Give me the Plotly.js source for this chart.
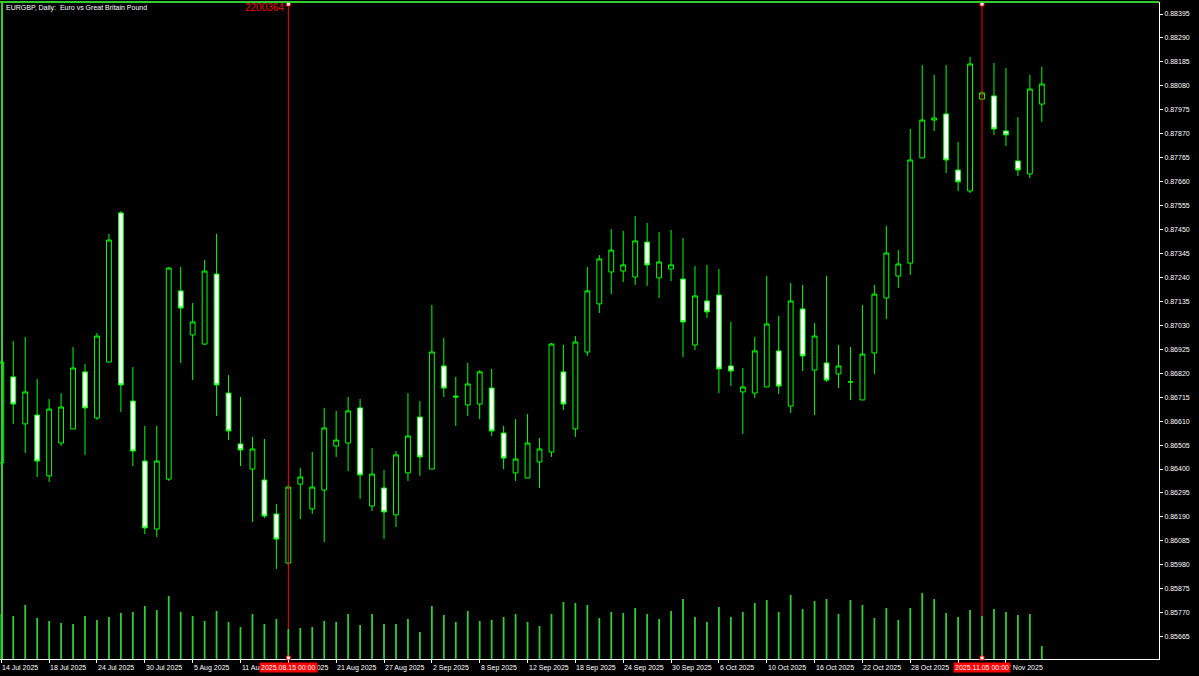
<!DOCTYPE html>
<html>
<head>
<meta charset="utf-8">
<script src="https://cdn.plot.ly/plotly-3.0.1.min.js"></script>
<style>
  html, body { margin: 0; padding: 0; background: #000; }
  #chart { width: 1199px; height: 676px; }
</style>
</head>
<body>
<div id="chart"></div>
<script>
const symbolTitle = 'EURGBP, Daily:  Euro vs Great Britain Pound';

const dates = [
  '2025.07.14','2025.07.15','2025.07.16','2025.07.17','2025.07.18','2025.07.21','2025.07.22','2025.07.23','2025.07.24','2025.07.25',
  '2025.07.28','2025.07.29','2025.07.30','2025.07.31','2025.08.01','2025.08.04','2025.08.05','2025.08.06','2025.08.07','2025.08.08',
  '2025.08.11','2025.08.12','2025.08.13','2025.08.14','2025.08.15','2025.08.18','2025.08.19','2025.08.20','2025.08.21','2025.08.22',
  '2025.08.25','2025.08.26','2025.08.27','2025.08.28','2025.08.29','2025.09.01','2025.09.02','2025.09.03','2025.09.04','2025.09.05',
  '2025.09.08','2025.09.09','2025.09.10','2025.09.11','2025.09.12','2025.09.15','2025.09.16','2025.09.17','2025.09.18','2025.09.19',
  '2025.09.22','2025.09.23','2025.09.24','2025.09.25','2025.09.26','2025.09.29','2025.09.30','2025.10.01','2025.10.02','2025.10.03',
  '2025.10.06','2025.10.07','2025.10.08','2025.10.09','2025.10.10','2025.10.13','2025.10.14','2025.10.15','2025.10.16','2025.10.17',
  '2025.10.20','2025.10.21','2025.10.22','2025.10.23','2025.10.24','2025.10.27','2025.10.28','2025.10.29','2025.10.30','2025.10.31',
  '2025.11.03','2025.11.04','2025.11.05','2025.11.06','2025.11.07','2025.11.10','2025.11.11','2025.11.12'
];

const openP = [
  0.86427,0.86804,0.86598,0.86637,0.86370,0.86514,0.86576,0.86826,0.86624,0.86869,
  0.87523,0.86698,0.86435,0.86137,0.86356,0.87181,0.86988,0.86948,0.87255,0.86733,
  0.86510,0.86400,0.86352,0.86203,0.85988,0.86334,0.86225,0.86308,0.86501,0.86514,
  0.86668,0.86238,0.86317,0.86199,0.86383,0.86628,0.86400,0.86852,0.86720,0.86681,
  0.86685,0.86755,0.86558,0.86383,0.86361,0.86431,0.86475,0.86826,0.86576,0.86913,
  0.87124,0.87264,0.87268,0.87242,0.87395,0.87238,0.87277,0.87233,0.86944,0.87137,
  0.87163,0.86852,0.86738,0.86733,0.86760,0.86918,0.86676,0.87102,0.86834,0.86865,
  0.86817,0.86782,0.86703,0.86909,0.87150,0.87246,0.87303,0.87764,0.87930,0.87957,
  0.87711,0.87619,0.88022,0.88036,0.87882,0.87751,0.87694,0.88000
];
const highP = [
  0.86878,0.86961,0.86979,0.86795,0.86707,0.86733,0.86935,0.86861,0.86997,0.87431,
  0.87531,0.86847,0.86589,0.86589,0.87286,0.87286,0.87128,0.87317,0.87431,0.86812,
  0.86716,0.86541,0.86532,0.86247,0.86334,0.86405,0.86475,0.86668,0.86655,0.86716,
  0.86707,0.86492,0.86396,0.86479,0.86733,0.86698,0.87119,0.86975,0.86804,0.86865,
  0.86834,0.86839,0.86589,0.86619,0.86641,0.86536,0.86953,0.86944,0.86983,0.87286,
  0.87338,0.87452,0.87444,0.87509,0.87479,0.87439,0.87448,0.87413,0.87290,0.87295,
  0.87277,0.87045,0.86843,0.86979,0.87246,0.87071,0.87216,0.87207,0.87040,0.87246,
  0.86944,0.86935,0.87119,0.87207,0.87466,0.87360,0.87891,0.88171,0.88128,0.88171,
  0.87834,0.88207,0.88057,0.88180,0.88158,0.87943,0.88128,0.88163
];
const lowP = [
  0.86413,0.86598,0.86470,0.86365,0.86343,0.86501,0.86576,0.86462,0.86615,0.86869,
  0.86650,0.86413,0.86115,0.86102,0.86348,0.86865,0.86790,0.86944,0.86633,0.86527,
  0.86413,0.86168,0.86185,0.85962,0.85979,0.86181,0.86203,0.86080,0.86453,0.86391,
  0.86269,0.86216,0.86093,0.86146,0.86348,0.86370,0.86400,0.86716,0.86589,0.86633,
  0.86619,0.86545,0.86400,0.86348,0.86361,0.86317,0.86453,0.86659,0.86541,0.86896,
  0.87084,0.87167,0.87220,0.87207,0.87203,0.87150,0.87224,0.86891,0.86922,0.87062,
  0.86733,0.86764,0.86554,0.86712,0.86760,0.86729,0.86646,0.86830,0.86637,0.86782,
  0.86755,0.86703,0.86703,0.86817,0.87058,0.87194,0.87251,0.87764,0.87882,0.87698,
  0.87619,0.87610,0.88018,0.87865,0.87816,0.87685,0.87676,0.87922
];
const closeP = [
  0.86869,0.86685,0.86738,0.86435,0.86663,0.86672,0.86843,0.86668,0.86983,0.87404,
  0.86769,0.86479,0.86142,0.86435,0.87281,0.87106,0.87045,0.87268,0.86769,0.86567,
  0.86484,0.86488,0.86194,0.86093,0.86321,0.86365,0.86321,0.86580,0.86527,0.86655,
  0.86374,0.86378,0.86212,0.86462,0.86545,0.86453,0.86913,0.86755,0.86716,0.86773,
  0.86826,0.86567,0.86448,0.86444,0.86514,0.86488,0.86948,0.86685,0.86957,0.87181,
  0.87321,0.87360,0.87295,0.87400,0.87295,0.87308,0.87295,0.87045,0.87159,0.87089,
  0.86839,0.86830,0.86760,0.86918,0.87036,0.86764,0.87137,0.86896,0.86983,0.86790,
  0.86852,0.86782,0.86904,0.87167,0.87347,0.87299,0.87755,0.87930,0.87939,0.87755,
  0.87659,0.88176,0.88049,0.87891,0.87865,0.87711,0.88066,0.88088
];
const tickVolume = [
  4500,4300,5400,4100,3800,3600,3500,4300,3900,4200,
  4600,4700,5300,4900,6300,4700,4300,3800,4800,3700,
  3200,4500,3500,4000,3000,3100,3200,3800,3700,4500,
  3400,4500,3500,3500,4000,2700,5300,4400,3700,4800,
  3800,3900,4200,4500,3700,3300,4500,5700,5600,5400,
  4100,4700,4600,5100,4500,4000,4800,6000,4200,3700,
  5200,4200,4700,5600,5900,4700,6400,5000,5800,6000,
  4500,5900,5400,4100,5100,3900,5100,6600,6000,4600,
  4200,4900,4300,5000,4700,4400,4500,1300
];

const priceTicks = [
  '0.88395','0.88290','0.88185','0.88080','0.87975','0.87870','0.87765','0.87660','0.87555',
  '0.87450','0.87345','0.87240','0.87135','0.87030','0.86925','0.86820','0.86715','0.86610',
  '0.86505','0.86400','0.86295','0.86190','0.86085','0.85980','0.85875','0.85770','0.85665'
];

const dateTickDates = [
  '2025.07.14','2025.07.18','2025.07.24','2025.07.30','2025.08.05','2025.08.11','2025.08.15','2025.08.21',
  '2025.08.27','2025.09.02','2025.09.08','2025.09.12','2025.09.18','2025.09.24','2025.09.30','2025.10.06',
  '2025.10.10','2025.10.16','2025.10.22','2025.10.28','2025.11.03','2025.11.07'
];
const dateTickLabels = [
  '14 Jul 2025','18 Jul 2025','24 Jul 2025','30 Jul 2025','5 Aug 2025','11 Aug 2025','15 Aug 2025','21 Aug 2025',
  '27 Aug 2025','2 Sep 2025','8 Sep 2025','12 Sep 2025','18 Sep 2025','24 Sep 2025','30 Sep 2025','6 Oct 2025',
  '10 Oct 2025','16 Oct 2025','22 Oct 2025','28 Oct 2025','3 Nov 2025','7 Nov 2025'
];

const markedDates = ['2025.08.15','2025.11.05'];
const markedLabels = ['2025.08.15 00:00','2025.11.05 00:00'];
const markedName = '2200364';

// ---- build ----
const idx = dates.map((d, i) => i);
const VOL_TOP = 65700;

const volTrace = {
  type: 'bar', x: idx, y: tickVolume, yaxis: 'y2',
  width: 0.15,
  marker: { color: '#32CD32', line: { width: 0 } },
  hoverinfo: 'skip'
};

const candle = {
  type: 'candlestick', x: idx,
  open: openP, high: highP, low: lowP, close: closeP,
  whiskerwidth: 0,
  increasing: { line: { color: '#00FF00', width: 1 }, fillcolor: '#000000' },
  decreasing: { line: { color: '#00FF00', width: 1 }, fillcolor: '#FFFFFF' },
  hoverinfo: 'skip'
};

const font = { family: 'Liberation Sans, Arial, sans-serif', size: 7, color: '#FFFFFF' };

const annotations = [];
annotations.push({
  xref: 'paper', yref: 'paper', x: 0, y: 1, xanchor: 'left', yanchor: 'top',
  xshift: 4, yshift: 0, showarrow: false, text: symbolTitle, font: font
});
dateTickDates.forEach((d, k) => {
  annotations.push({
    xref: 'x', yref: 'paper', x: dates.indexOf(d), y: 0, xanchor: 'left', yanchor: 'top',
    xshift: -1, yshift: -3, showarrow: false, text: dateTickLabels[k], font: font
  });
});
markedDates.forEach((d, k) => {
  annotations.push({
    xref: 'x', yref: 'paper', x: dates.indexOf(d), y: 0, xanchor: 'center', yanchor: 'top',
    yshift: -3, showarrow: false, text: markedLabels[k], font: font,
    bgcolor: '#FF0000', borderpad: 1
  });
});
annotations.push({
  xref: 'x', yref: 'paper', x: dates.indexOf(markedDates[0]), y: 1, xanchor: 'right', yanchor: 'top',
  xshift: -2, yshift: 2, showarrow: false, text: markedName,
  font: { family: 'Liberation Sans, Arial, sans-serif', size: 10, color: '#FF0000' }
});

const shapes = [];
markedDates.forEach((d) => {
  const i = dates.indexOf(d);
  shapes.push({
    type: 'line', xref: 'x', yref: 'y2', x0: i, x1: i, y0: tickVolume[i], y1: VOL_TOP,
    line: { color: '#FF0000', width: 1 }, layer: 'above'
  });
  shapes.push({
    type: 'rect', xref: 'x', yref: 'paper', xsizemode: 'pixel', ysizemode: 'pixel',
    xanchor: i, yanchor: 1, x0: -2, x1: 2, y0: -4, y1: 0,
    fillcolor: '#FFFFFF', line: { color: '#FF0000', width: 1 }, layer: 'above'
  });
  shapes.push({
    type: 'rect', xref: 'x', yref: 'paper', xsizemode: 'pixel', ysizemode: 'pixel',
    xanchor: i, yanchor: 0, x0: -2, x1: 2, y0: -1, y1: 3,
    fillcolor: '#FFFFFF', line: { color: '#FF0000', width: 1 }, layer: 'above'
  });
});
// green frame (left and top)
shapes.push({
  type: 'line', xref: 'paper', yref: 'paper', xsizemode: 'pixel', xanchor: 0,
  x0: 2, x1: 2, y0: 0, y1: 1, line: { color: '#32CD32', width: 2 }, layer: 'above'
});
shapes.push({
  type: 'line', xref: 'paper', yref: 'paper', ysizemode: 'pixel', yanchor: 1,
  x0: 0, x1: 1, y0: 0, y1: 0, line: { color: '#32CD32', width: 2 }, layer: 'above'
});

const PX_PER_BAR = 11.96;
const layout = {
  width: 1199, height: 676,
  margin: { l: 0, r: 40, t: 2, b: 17, pad: 0 },
  paper_bgcolor: '#000000', plot_bgcolor: '#000000',
  showlegend: false, hovermode: false,
  boxgap: 0.42,
  xaxis: {
    range: [-1.3 / PX_PER_BAR, -1.3 / PX_PER_BAR + 1159 / PX_PER_BAR],
    showgrid: false, zeroline: false,
    showline: true, linecolor: '#FFFFFF', linewidth: 1,
    ticks: 'outside', ticklen: 3, tickcolor: '#FFFFFF', tickwidth: 1,
    tickvals: dateTickDates.map(d => dates.indexOf(d)),
    showticklabels: false,
    rangeslider: { visible: false }, fixedrange: true
  },
  yaxis: {
    side: 'right',
    range: [0.855672, 0.884476],
    showgrid: false, zeroline: false,
    showline: true, linecolor: '#FFFFFF', linewidth: 1,
    ticks: 'outside', ticklen: 3, tickcolor: '#FFFFFF', tickwidth: 1,
    tickvals: priceTicks.map(Number), ticktext: priceTicks,
    tickfont: font, fixedrange: true
  },
  yaxis2: {
    overlaying: 'y', range: [0, VOL_TOP], visible: false, fixedrange: true
  },
  annotations: annotations,
  shapes: shapes
};

Plotly.newPlot('chart', [volTrace, candle], layout, { displayModeBar: false, staticPlot: true });
</script>
</body>
</html>
